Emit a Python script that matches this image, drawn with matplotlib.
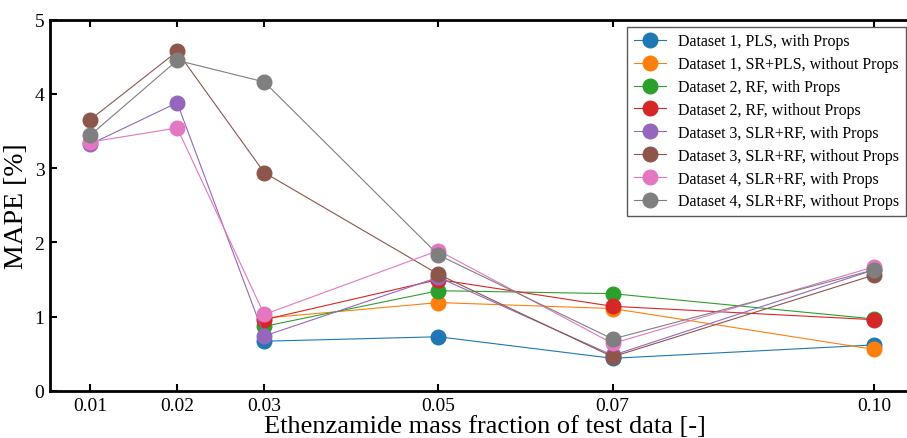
import matplotlib
matplotlib.use("Agg")
import matplotlib.pyplot as plt

x_all = [0.01, 0.02, 0.03, 0.05, 0.07, 0.10]
x_late = [0.03, 0.05, 0.07, 0.10]
xtick_labels = ["0.01", "0.02", "0.03", "0.05", "0.07", "0.10"]

d1_pls_with = [0.67, 0.73, 0.44, 0.62]
d1_srpls_without = [0.98, 1.19, 1.11, 0.56]
d2_rf_with = [0.87, 1.35, 1.31, 0.97]
d2_rf_without = [0.96, 1.50, 1.14, 0.96]
d3_slrrf_with = [3.32, 3.88, 0.74, 1.53, 0.48, 1.63]
d3_slrrf_without = [3.65, 4.57, 2.94, 1.57, 0.46, 1.56]
d4_slrrf_with = [3.35, 3.54, 1.03, 1.89, 0.64, 1.67]
d4_slrrf_without = [3.44, 4.45, 4.16, 1.83, 0.70, 1.63]

series = [
    ("Dataset 1, PLS, with Props", x_late, d1_pls_with, "#1f77b4"),
    ("Dataset 1, SR+PLS, without Props", x_late, d1_srpls_without, "#ff7f0e"),
    ("Dataset 2, RF, with Props", x_late, d2_rf_with, "#2ca02c"),
    ("Dataset 2, RF, without Props", x_late, d2_rf_without, "#d62728"),
    ("Dataset 3, SLR+RF, with Props", x_all, d3_slrrf_with, "#9467bd"),
    ("Dataset 3, SLR+RF, without Props", x_all, d3_slrrf_without, "#8c564b"),
    ("Dataset 4, SLR+RF, with Props", x_all, d4_slrrf_with, "#e377c2"),
    ("Dataset 4, SLR+RF, without Props", x_all, d4_slrrf_without, "#7f7f7f"),
]

plt.rcParams['font.family'] = ['Liberation Serif', 'DejaVu Serif']

fig = plt.figure(figsize=(9.07, 4.39), dpi=100)
W, H = 907, 439
left, right, top, bottom = 50, 920, 20.5, 392
ax = fig.add_axes([left / W, 1 - bottom / H, (right - left) / W, (bottom - top) / H])

for label, xs, ys, c in series:
    ax.plot(xs, ys, '-o', color=c, lw=0.8, markersize=10.5, label=label)

ax.set_xlim(0.0054, 0.1053)
ax.set_ylim(0, 5)
ax.set_xticks(x_all)
ax.set_xticklabels(xtick_labels)
ax.set_yticks([0, 1, 2, 3, 4, 5])
ax.tick_params(direction='in', length=5, width=1.5, top=True, right=True,
               labelsize=14, pad=4)
for s in ax.spines.values():
    s.set_linewidth(2)

ax.set_xlabel("Ethenzamide mass fraction of test data [-]", fontsize=19, labelpad=1)
ax.set_ylabel("MAPE [%]", fontsize=20, labelpad=4)

leg = ax.legend(loc='upper right', bbox_to_anchor=(906 / W, 1 - 28 / H),
                bbox_transform=fig.transFigure, fontsize=11.5, fancybox=False,
                edgecolor='0.35', framealpha=1, borderaxespad=0,
                handlelength=2.0, labelspacing=0.43, borderpad=0.4)
leg.get_frame().set_linewidth(1.0)

fig.savefig("out.png", dpi=100)
